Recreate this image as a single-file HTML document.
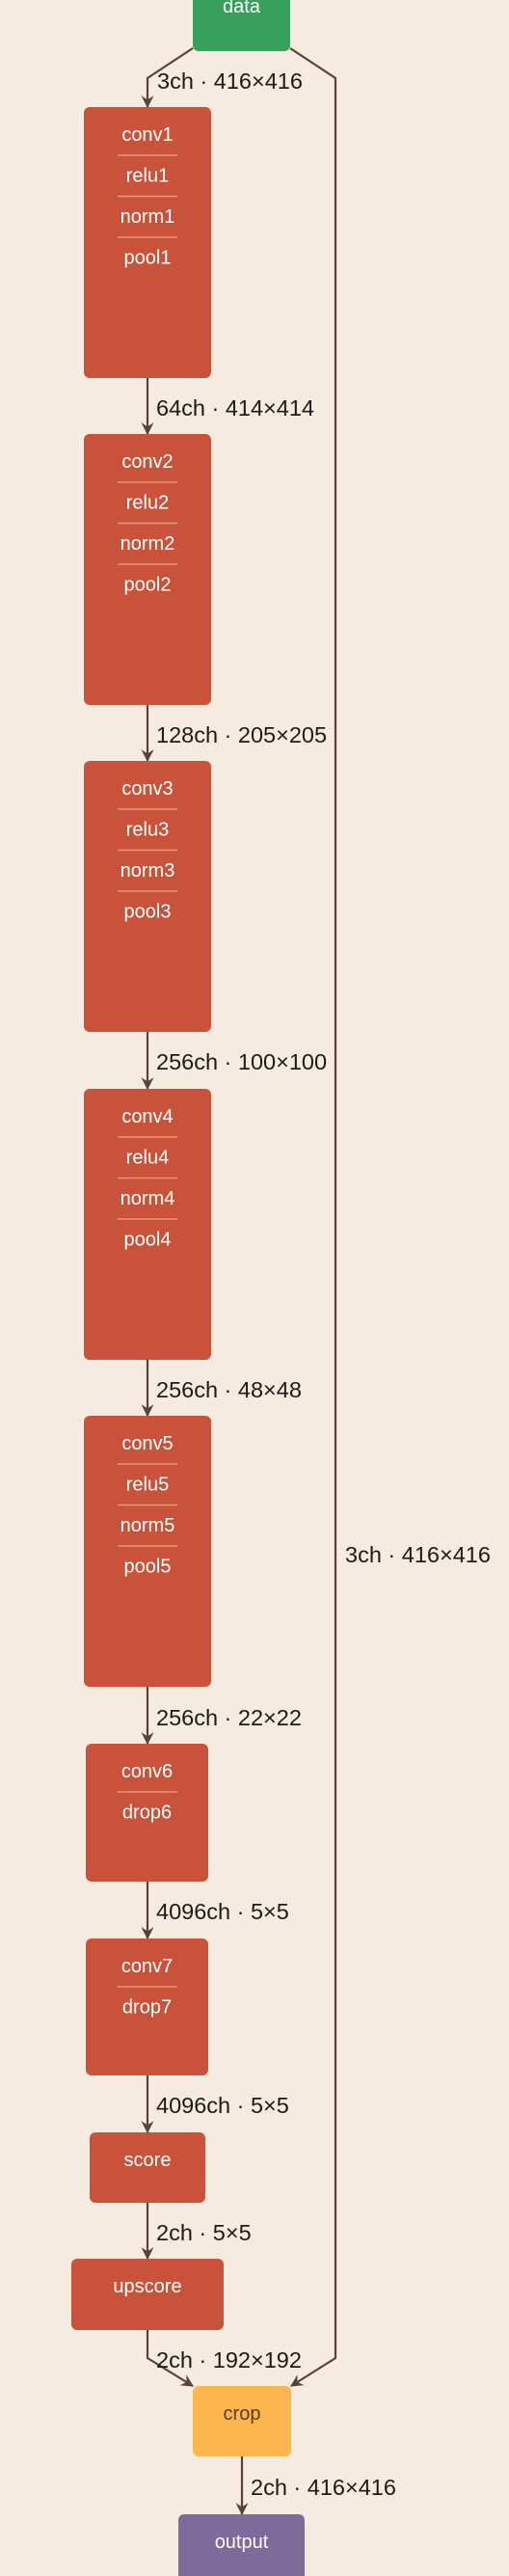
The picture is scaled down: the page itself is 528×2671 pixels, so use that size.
<!DOCTYPE html>
<html><head><meta charset="utf-8"><style>
html,body{margin:0;padding:0;background:#f6ebe1;}
svg{display:block;font-family:"Liberation Sans",Arial,sans-serif;}
.lbl{font-size:23.5px;fill:#1e1a18;dominant-baseline:central;}
.nt{font-size:20px;fill:#fff;text-anchor:middle;dominant-baseline:central;}
.ln{stroke:#5a4238;stroke-width:2.2;fill:none;}
.dv{stroke:#e8947f;stroke-width:1.5;}
</style></head><body>
<svg id="g" width="528" height="2671" viewBox="0 0 528 2671">
<defs><marker id="ah" viewBox="0 0 12 12" refX="11" refY="6" markerWidth="13" markerHeight="13" markerUnits="userSpaceOnUse" orient="auto"><path d="M0,0 L12,6 L0,12 L4,6 Z" fill="#5a4238"/></marker></defs>
</svg>
<script>
const svg=document.getElementById('g');
const NS='http://www.w3.org/2000/svg';
function mk(tag,attrs,parent){const e=document.createElementNS(NS,tag);for(const k in attrs)e.setAttribute(k,attrs[k]);(parent||svg).appendChild(e);return e;}
const nodes=[
 {id:'data',x:200,y:-12,w:101,h:65,c:'#38a05a',rows:['data'],ty:7},
 {id:'block1',x:87,y:111,w:132,h:281,c:'#c9533a',rows:['conv1','relu1','norm1','pool1']},
 {id:'block2',x:87,y:450,w:132,h:281,c:'#c9533a',rows:['conv2','relu2','norm2','pool2']},
 {id:'block3',x:87,y:789,w:132,h:281,c:'#c9533a',rows:['conv3','relu3','norm3','pool3']},
 {id:'block4',x:87,y:1129,w:132,h:281,c:'#c9533a',rows:['conv4','relu4','norm4','pool4']},
 {id:'block5',x:87,y:1468,w:132,h:281,c:'#c9533a',rows:['conv5','relu5','norm5','pool5']},
 {id:'block6',x:89,y:1808,w:127,h:143,c:'#c9533a',rows:['conv6','drop6']},
 {id:'block7',x:89,y:2010,w:127,h:142,c:'#c9533a',rows:['conv7','drop7']},
 {id:'score',x:93,y:2211,w:120,h:73,c:'#c9533a',rows:['score']},
 {id:'upscore',x:74,y:2342,w:158,h:74,c:'#c9533a',rows:['upscore']},
 {id:'crop',x:200,y:2474,w:102,h:73,c:'#fdb54e',rows:['crop'],tc:'#5a3d2b'},
 {id:'output',x:185,y:2607,w:131,h:80,c:'#7e6b9a',rows:['output']}
];
const lines=[
 ['data-to-conv1','M200,50 L153,81 L153,111'],
 ['data-to-crop-skip','M301,50 L348,81 L348,2445 L302,2474'],
 ['conv1-to-conv2','M153,392 L153,450'],
 ['conv2-to-conv3','M153,731 L153,789'],
 ['conv3-to-conv4','M153,1070 L153,1129'],
 ['conv4-to-conv5','M153,1410 L153,1468'],
 ['conv5-to-conv6','M153,1749 L153,1808'],
 ['conv6-to-conv7','M153,1951 L153,2010'],
 ['conv7-to-score','M153,2152 L153,2211'],
 ['score-to-upscore','M153,2284 L153,2342'],
 ['upscore-to-crop','M153,2416 L153,2445 L200,2474'],
 ['crop-to-output','M251,2547 L251,2607']
];
for(const [n,d] of lines){
 const p=mk('path',{d:d,class:'ln','marker-end':'url(#ah)'});
 
 
}
const labels=[
 [163,84,'3ch · 416×416'],[162,423,'64ch · 414×414'],[162,762,'128ch · 205×205'],
 [162,1101,'256ch · 100×100'],[162,1441,'256ch · 48×48'],[162,1781,'256ch · 22×22'],
 [162,1982,'4096ch · 5×5'],[162,2183,'4096ch · 5×5'],[162,2315,'2ch · 5×5'],
 [162,2447,'2ch · 192×192'],[260,2579,'2ch · 416×416'],[358,1612,'3ch · 416×416']
];
for(const [x,y,t] of labels){
 const e=mk('text',{x:x,y:y,class:'lbl'});e.textContent=t;
 
 
}
for(const n of nodes){
 const g=mk('g',{});
 
 
 mk('rect',{x:n.x,y:n.y,width:n.w,height:n.h,rx:6,fill:n.c},g);
 const cx=n.x+n.w/2;
 n.rows.forEach((r,i)=>{
  const ty=(n.ty!==undefined?n.ty:n.y+29)+i*42.5;
  const t=mk('text',{x:cx,y:ty,class:'nt'},g);
  if(n.tc)t.style.fill=n.tc;
  t.textContent=r;
  
  
  if(i<n.rows.length-1){
   const dl=mk('line',{x1:cx-31,x2:cx+31,y1:ty+21,y2:ty+21,class:'dv'},g);
   
   
  }
 });
}
</script>
</body></html>
